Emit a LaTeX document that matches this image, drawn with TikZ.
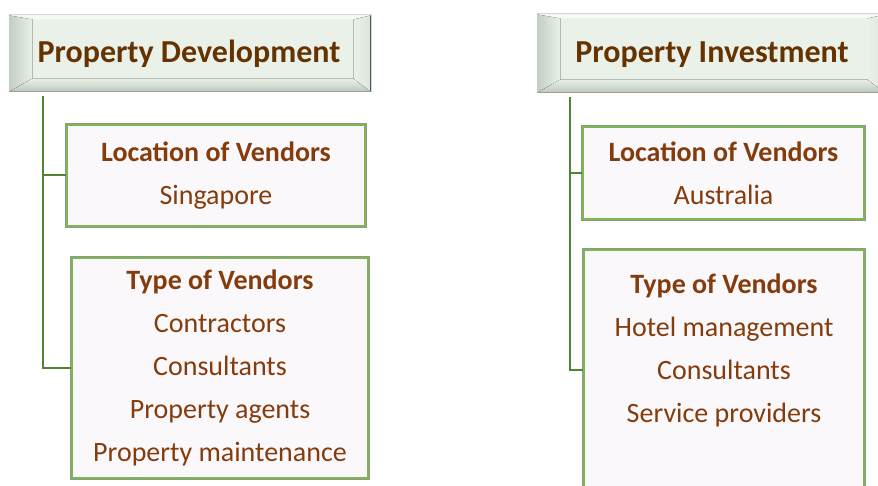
\documentclass[tikz,border=0pt]{standalone}
\usepackage{fontspec}
\setmainfont{Carlito}
\usetikzlibrary{calc}
\definecolor{hdtxt}{HTML}{663300}
\definecolor{bxtxt}{HTML}{843C0C}
\definecolor{trunk}{HTML}{548235}
\definecolor{bxgreen}{HTML}{7DB653}
\definecolor{bxshadow}{HTML}{8C9A86}
\definecolor{bxfill}{HTML}{FBF8FC}
\definecolor{hdfill}{HTML}{E9F1E9}
\definecolor{hdtop}{HTML}{F6FAF6}
\definecolor{hdleft}{HTML}{C4D0C4}
\definecolor{hdbottom}{HTML}{BCC8BC}
\definecolor{hdright}{HTML}{DCE5DC}
\definecolor{hdedge}{HTML}{D2DAD2}
\tikzset{
  header/.style={draw=hdedge, line width=1pt, fill=hdfill, text=hdtxt, inner sep=0pt},
  hdtext/.style={text=hdtxt, font=\fontsize{32}{36}\selectfont\bfseries, inner sep=0pt},
  vbox/.style={draw=bxgreen, line width=1.6pt, fill=bxfill, text=bxtxt,
    preaction={draw=bxshadow, line width=3.2pt},
    align=center, font=\fontsize{28}{43}\selectfont, inner sep=0pt},
  tline/.style={draw=trunk, line width=2pt},
}
\newcommand\bevelfaces[1]{%
  \fill[hdtop] ($(#1.north west)+(1,1)$) -- ($(#1.north east)+(-1,1)$) -- ($(#1.north east)+(-18,5)$) -- ($(#1.north west)+(24,5)$) -- cycle;
  \fill[left color=hdleft, right color=hdfill] ($(#1.north west)+(1,1)$) -- ($(#1.north west)+(24,5)$) -- ($(#1.south west)+(24,-14)$) -- ($(#1.south west)+(1,-1)$) -- cycle;
  \fill[top color=hdfill, bottom color=hdbottom] ($(#1.south west)+(1,-1)$) -- ($(#1.south west)+(24,-14)$) -- ($(#1.south east)+(-18,-14)$) -- ($(#1.south east)+(-1,-1)$) -- cycle;
  \fill[left color=hdfill, right color=hdright] ($(#1.north east)+(-1,1)$) -- ($(#1.north east)+(-18,5)$) -- ($(#1.south east)+(-18,-14)$) -- ($(#1.south east)+(-1,-1)$) -- cycle;
}
\begin{document}
\begin{tikzpicture}[x=1pt,y=-1pt]
\clip (0,0) rectangle (878,486);
\fill[white] (0,0) rectangle (878,486);

% headers
\node[header, minimum width=362pt, minimum height=77pt] (hd1) at (190,53.5) {};
\bevelfaces{hd1}
\node[hdtext] (hd1t) at (189,54) {Property Development};

\node[header, minimum width=348pt, minimum height=79pt] (hd2) at (711,53.5) {};
\bevelfaces{hd2}
\node[hdtext] (hd2t) at (712,55) {Property Investment};

% boxes left
\node[vbox, minimum width=298pt, minimum height=101pt] (loc1) at (216,175.5)
  {\textbf{Location of Vendors}\\Singapore};
\node[vbox, minimum width=296pt, minimum height=220pt] (type1) at (220,368)
  {\textbf{Type of Vendors}\\Contractors\\Consultants\\Property agents\\Property maintenance};

% boxes right
\node[vbox, minimum width=281pt, minimum height=92pt] (loc2) at (723.5,173)
  {\textbf{Location of Vendors}\\Australia};
\node[vbox, minimum width=280pt, minimum height=240pt] (type2) at (724,370)
  {\textbf{Type of Vendors}\\Hotel management\\Consultants\\Service providers\\~};

% trunks
\coordinate (t1) at (43,96);
\draw[tline] (t1) |- (type1.west);
\draw[tline] (t1 |- loc1.west) -- (loc1.west);
\coordinate (t2) at (570,97);
\draw[tline] (t2) |- (type2.west);
\draw[tline] (t2 |- loc2.west) -- (loc2.west);
\end{tikzpicture}
\end{document}
